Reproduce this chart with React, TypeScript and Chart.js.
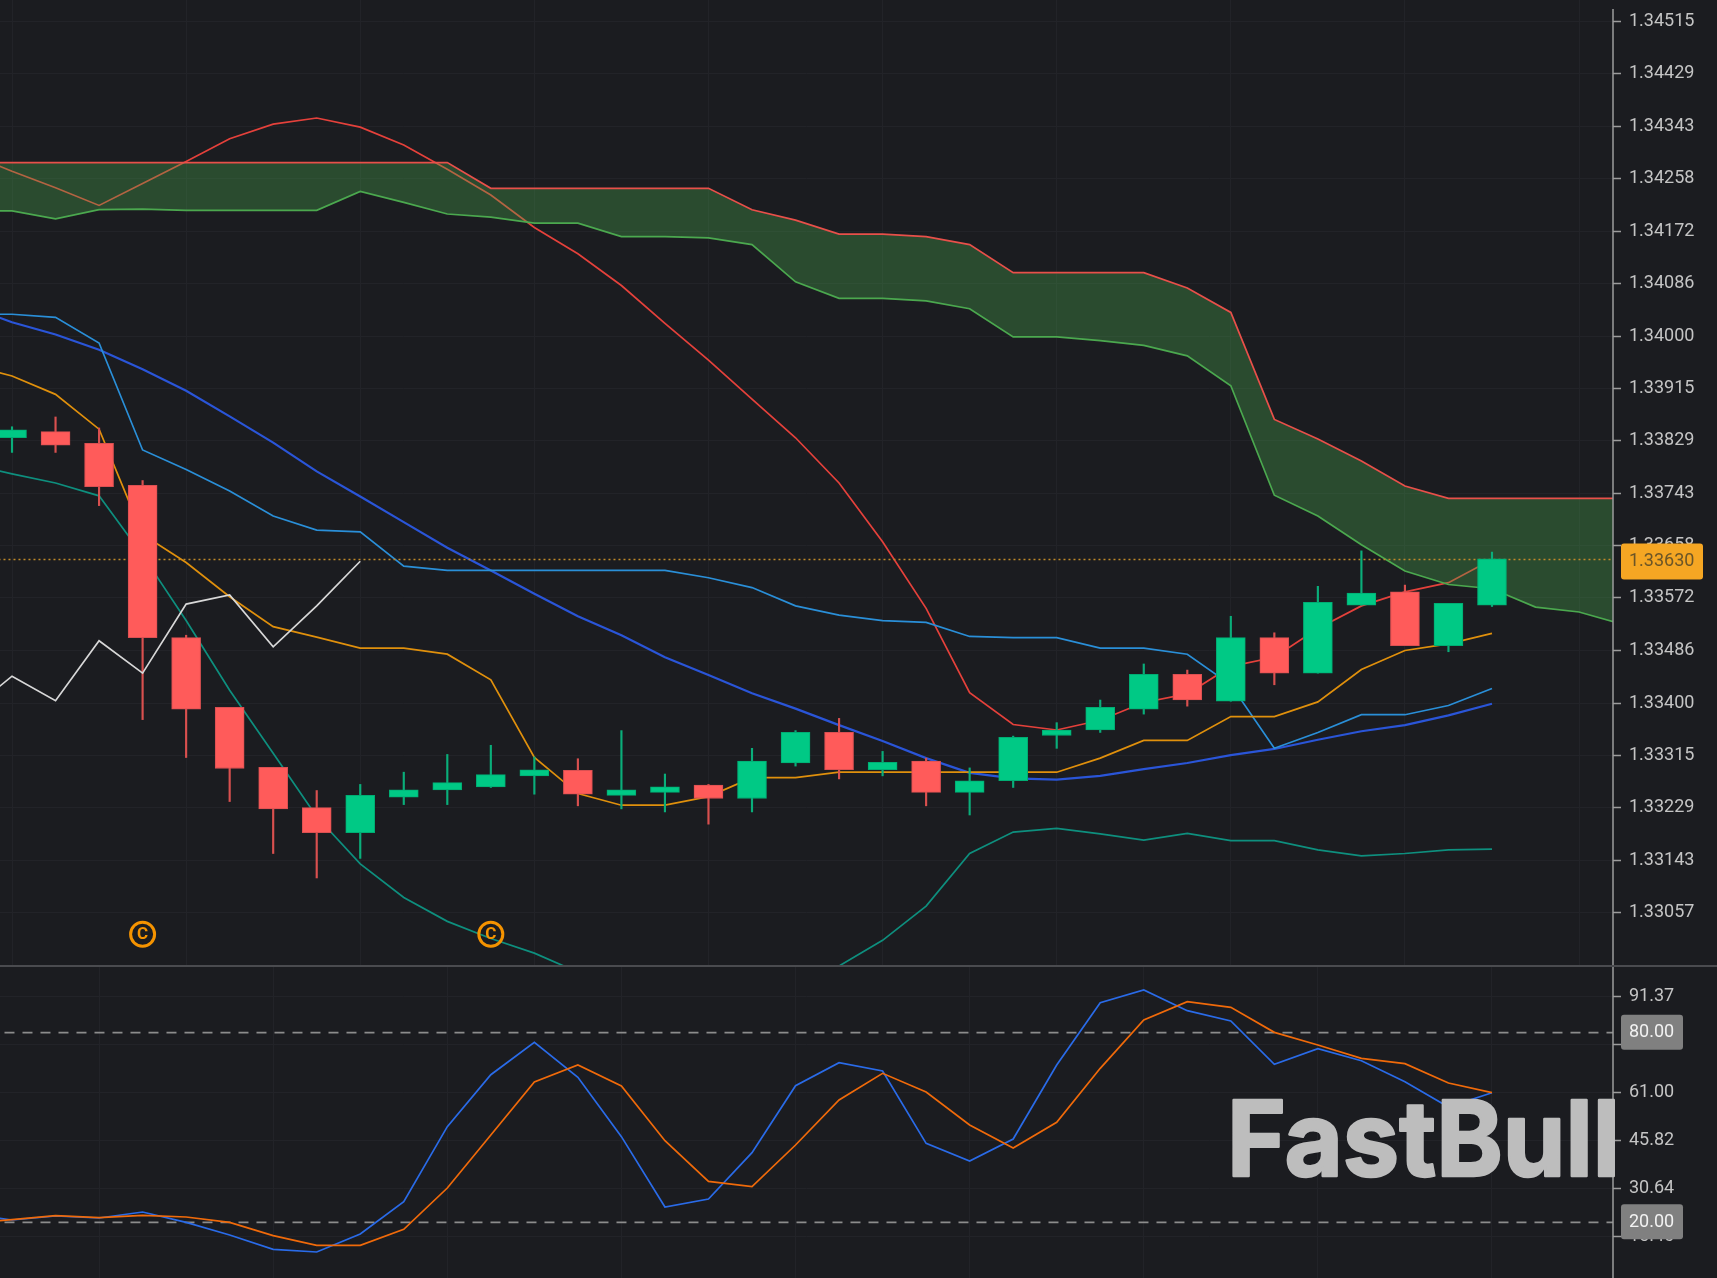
import React, { useEffect, useRef } from "react";
import { Chart, registerables } from "chart.js";

Chart.register(...registerables);

const priceTicks = [1.34515,1.34429,1.34343,1.34258,1.34172,1.34086,1.34,1.33915,1.33829,1.33743,1.33658,1.33572,1.33486,1.334,1.33315,1.33229,1.33143,1.33057];
const oscTicks = [91.37,76.19,61.0,45.82,30.64,15.46];
const gridIdx = [2,6,10,14,18,22,26,30,34];

const opens = [1.33834,1.33844,1.33825,1.33756,1.33507,1.33393,1.33295,1.33229,1.33188,1.33246,1.33258,1.33263,1.33281,1.3329,1.33249,1.33254,1.33266,1.33244,1.33302,1.33352,1.33291,1.33305,1.33254,1.33273,1.33347,1.33356,1.3339,1.33447,1.33403,1.33507,1.33449,1.3356,1.33582,1.33494,1.3356];
const closes = [1.33847,1.33822,1.33754,1.33507,1.3339,1.33293,1.33227,1.33188,1.33249,1.33258,1.3327,1.33283,1.33291,1.33251,1.33258,1.33263,1.33244,1.33305,1.33352,1.33291,1.33303,1.33254,1.33273,1.33344,1.33356,1.33393,1.33447,1.33405,1.33507,1.33449,1.33565,1.3358,1.33494,1.33563,1.33636];
const highs = [1.33852,1.33868,1.3385,1.33764,1.33511,1.33393,1.33295,1.33257,1.33267,1.33287,1.33316,1.33331,1.33312,1.33309,1.33355,1.33284,1.33267,1.33326,1.33355,1.33375,1.33321,1.3331,1.33294,1.33346,1.33368,1.33405,1.33464,1.33454,1.33542,1.33515,1.33591,1.33649,1.33593,1.33563,1.33647];
const lows = [1.3381,1.3381,1.33723,1.33373,1.33311,1.33239,1.33154,1.33114,1.33146,1.33234,1.33234,1.33262,1.33251,1.33232,1.33227,1.33222,1.33202,1.33222,1.33297,1.33276,1.33281,1.33232,1.33217,1.33262,1.33326,1.33352,1.33382,1.33395,1.33403,1.3343,1.33449,1.3356,1.33494,1.33484,1.33558];

// series below start at candle index -1
const cloudTop = [1.34284,1.34284,1.34284,1.34284,1.34284,1.34284,1.34284,1.34284,1.34284,1.34284,1.34284,1.34284,1.34242,1.34242,1.34242,1.34242,1.34242,1.34242,1.34207,1.3419,1.34167,1.34167,1.34163,1.3415,1.34104,1.34104,1.34104,1.34104,1.34079,1.34039,1.33864,1.33832,1.33796,1.33755,1.33735,1.33735,1.33735,1.33735,1.33735];
const cloudBottom = [1.34205,1.34205,1.34192,1.34207,1.34208,1.34206,1.34206,1.34206,1.34206,1.34237,1.34219,1.342,1.34195,1.34185,1.34185,1.34163,1.34163,1.34161,1.3415,1.34089,1.34062,1.34062,1.34058,1.34045,1.33999,1.33999,1.33993,1.33985,1.33968,1.33919,1.3374,1.33706,1.33659,1.33616,1.33594,1.33587,1.33557,1.33549,1.33529];
const redCurve = [1.34299,1.3427,1.34243,1.34214,1.3425,1.34286,1.34323,1.34347,1.34357,1.34342,1.34313,1.34273,1.34231,1.34178,1.34135,1.34083,1.34021,1.33961,1.33897,1.33834,1.3376,1.33664,1.33555,1.33417,1.33365,1.33356,1.33372,1.33401,1.33415,1.3346,1.33475,1.33522,1.33559,1.33582,1.33597,1.33635];
const orangeLine = [1.33954,1.33935,1.33905,1.33848,1.33676,1.3363,1.33574,1.33525,1.33508,1.3349,1.3349,1.3348,1.33438,1.33311,1.33252,1.33233,1.33233,1.33247,1.33278,1.33278,1.33287,1.33287,1.33287,1.33287,1.33287,1.33287,1.3331,1.33339,1.33339,1.33378,1.33378,1.33402,1.33455,1.33486,1.33497,1.33514];
const lightBlue = [1.34036,1.34036,1.34031,1.33989,1.33814,1.33782,1.33747,1.33706,1.33683,1.3368,1.33624,1.33617,1.33617,1.33617,1.33617,1.33617,1.33617,1.33605,1.33589,1.33559,1.33544,1.33535,1.33532,1.33509,1.33507,1.33507,1.3349,1.3349,1.3348,1.3343,1.33326,1.33352,1.33381,1.33381,1.33396,1.33424];
const royalBlue = [1.34049,1.34023,1.34003,1.33978,1.33946,1.33911,1.33869,1.33826,1.33779,1.33738,1.33696,1.33654,1.33617,1.33579,1.33542,1.33511,1.33475,1.33446,1.33416,1.33391,1.33364,1.33338,1.3331,1.33286,1.33277,1.33275,1.33281,1.33292,1.33302,1.33315,1.33325,1.3334,1.33354,1.33364,1.3338,1.33399];
const tealLine = [1.33791,1.33775,1.3376,1.33739,1.33642,1.33535,1.33421,1.33318,1.33214,1.33137,1.33082,1.33043,1.33015,1.32991,1.3296,1.3294,1.32925,1.32915,1.32915,1.3293,1.3297,1.33012,1.33068,1.33154,1.33189,1.33195,1.33186,1.33176,1.33187,1.33175,1.33175,1.3316,1.3315,1.33154,1.3316,1.33161];
const whiteLine = [1.33386,1.33444,1.33404,1.33502,1.33449,1.33562,1.33577,1.33492,1.33559,1.33632];
const stochK = [22.5,20.74,22.01,21.37,23.27,20.0,16.0,11.46,10.62,16.31,26.54,50.26,66.7,76.93,65.86,47.1,24.85,27.38,42.04,63.23,70.5,67.86,44.99,39.4,46.36,69.76,89.47,93.48,86.94,83.68,69.97,74.93,71.13,64.49,56.48,61.01];
const stochD = [19.69,20.85,22.11,21.48,22.22,21.69,20.0,15.79,12.73,12.73,17.79,30.86,47.62,64.38,69.76,63.12,45.83,32.97,31.28,44.46,58.69,67.13,61.22,50.79,43.51,51.63,68.71,83.99,89.79,88.0,80.09,76.09,71.87,70.18,64.07,61.01];

const lastPrice = 1.33635;
const lastPriceLabel = "1.33630";
const osLevels = [80, 20];
const osLabels = ["80.00", "20.00"];
const markerIdx = [3, 11];
const markerValue = [1.33022, 1.33022];
const markerText = "C";
const watermark = "FastBull";

const WIDTH = 1717;
const AXIS_W = 104;
const TOP_H = 966;
const LOW_H = 311;
const BG = "#1B1C20";
const GRID = "#222328";
const TICK = "#C4C4C4";
const AXIS = "#9C9C9C";
const UP = "#00C985";
const DOWN = "#FF5B5A";

const pts = (vals: number[], start = -1) => vals.map((y, k) => ({ x: start + k, y }));
const flat = (v: number) => { const o: { x: number; y: number }[] = []; for (let i = -1; i <= 37; i++) o.push({ x: i, y: v }); return o; };
const line = (label: string, data: any, color: string, order: number, extra: any = {}) => ({
  type: "line", label, data, borderColor: color, backgroundColor: color, borderWidth: 1.7,
  pointRadius: 0, tension: 0, fill: false, order, ...extra,
});
const noPad = (s: any) => { s.paddingTop = 0; s.paddingBottom = 0; s.paddingLeft = 0; s.paddingRight = 0; };

const xScale = () => ({
  type: "linear", min: -0.276, max: 36.78, offset: false,
  afterFit: noPad,
  afterBuildTicks: (s: any) => { s.ticks = gridIdx.map((value) => ({ value })); },
  ticks: { display: false, autoSkip: false },
  grid: { color: GRID, lineWidth: 1, drawTicks: false },
  border: { display: false },
});
const yScale = (min: number, max: number, list: number[], digits: number) => ({
  type: "linear", position: "right", min, max,
  afterFit: (s: any) => { s.width = AXIS_W; noPad(s); },
  afterBuildTicks: (s: any) => { s.ticks = list.map((value) => ({ value })); },
  ticks: {
    autoSkip: false, padding: 8, color: TICK, font: { family: "Roboto", size: 18 },
    callback: (v: any) => Number(v).toFixed(digits),
  },
  grid: { color: GRID, lineWidth: 1, tickColor: AXIS, tickLength: 8, tickWidth: 1.5 },
  border: { display: false },
});

const roundRect = (ctx: CanvasRenderingContext2D, x: number, y: number, w: number, h: number, r: number, fill: string) => {
  ctx.beginPath();
  ctx.roundRect(x, y, w, h, r);
  ctx.fillStyle = fill;
  ctx.fill();
};

const topOverlay = {
  id: "topOverlay",
  afterDraw(chart: any) {
    const { ctx, chartArea, scales } = chart;
    ctx.save();
    ctx.strokeStyle = AXIS; ctx.lineWidth = 1.5;
    ctx.beginPath(); ctx.moveTo(chartArea.right, 9); ctx.lineTo(chartArea.right, chartArea.bottom); ctx.stroke();
    ctx.font = "bold 17px Roboto"; ctx.fillStyle = "#F59300"; ctx.textAlign = "center"; ctx.textBaseline = "middle";
    markerIdx.forEach((m, k) => ctx.fillText(markerText, scales.x.getPixelForValue(m), scales.y.getPixelForValue(markerValue[k]) + 1));
    const y = scales.y.getPixelForValue(lastPrice) + 1;
    roundRect(ctx, chartArea.right + 8, y - 17, 82, 36, 3, "#F5A623");
    ctx.font = "18px Roboto"; ctx.fillStyle = "#6B5527"; ctx.textAlign = "left";
    ctx.fillText(lastPriceLabel, chartArea.right + 16, y + 1);
    ctx.restore();
  },
};

const lowOverlay = {
  id: "lowOverlay",
  afterDraw(chart: any) {
    const { ctx, chartArea, scales } = chart;
    ctx.save();
    ctx.strokeStyle = AXIS; ctx.lineWidth = 1.5;
    ctx.beginPath(); ctx.moveTo(chartArea.right, 0); ctx.lineTo(chartArea.right, chartArea.bottom); ctx.stroke();
    ctx.textBaseline = "middle"; ctx.textAlign = "left";
    osLevels.forEach((lvl, k) => {
      const y = scales.y.getPixelForValue(lvl);
      roundRect(ctx, chartArea.right + 8, y - 18, 62, 35, 3, "#808080");
      ctx.font = "18px Roboto"; ctx.fillStyle = "#F2F2F2";
      ctx.fillText(osLabels[k], chartArea.right + 16, y);
    });
    ctx.font = "bold 104px Inter"; ctx.fillStyle = "#BDBDBD"; ctx.strokeStyle = "#BDBDBD"; ctx.lineWidth = 2.5;
    ctx.lineJoin = "round"; ctx.textBaseline = "alphabetic";
    ctx.fillText(watermark, 1227, 1176 - 967, 393);
    ctx.strokeText(watermark, 1227, 1176 - 967, 393);
    ctx.restore();
  },
};

export default function App() {
  const topRef = useRef<HTMLCanvasElement | null>(null);
  const lowRef = useRef<HTMLCanvasElement | null>(null);

  useEffect(() => {
    const bodyColors = closes.map((c, i) => (c >= opens[i] ? UP : DOWN));
    const wickColors = closes.map((c, i) => (c >= opens[i] ? "#0AAE7A" : "#D9504F"));
    const edgeColors = closes.map((c, i) => (c >= opens[i] ? "#00AD73" : "#DB5052"));
    const top = new Chart(topRef.current as any, {
      type: "bar",
      data: {
        datasets: [
          line("Last", flat(lastPrice), "#C08A2A", 3, { borderDash: [2, 3], borderWidth: 1.5 }),
          line("Span A", pts(cloudTop), "#E8504A", 5, { fill: "+1", backgroundColor: "rgba(76,175,80,0.32)" }),
          line("Span B", pts(cloudBottom), "#4CA84F", 5),
          line("Red", pts(redCurve), "#E5413B", 9),
          line("Orange", pts(orangeLine), "#E0900C", 4),
          line("Light blue", pts(lightBlue), "#2A8FD8", 4),
          line("Royal blue", pts(royalBlue), "#2A55D8", 4, { borderWidth: 2.2 }),
          line("Teal", pts(tealLine), "#0E8F7E", 4),
          line("Lag", pts(whiteLine), "#D8D8D8", 0),
          {
            type: "bar", label: "Wick", grouped: false, barThickness: 1.5, order: 2,
            data: highs.map((h, i) => ({ x: i, y: [lows[i], h] })), backgroundColor: wickColors,
          },
          {
            type: "bar", label: "Body", grouped: false, barThickness: 29, order: 1,
            data: opens.map((o, i) => ({ x: i, y: [o, closes[i]] })),
            backgroundColor: bodyColors, borderColor: edgeColors, borderWidth: 1, borderSkipped: false,
          },
          {
            type: "line", label: "Marker", showLine: false, order: 0,
            data: markerIdx.map((x, k) => ({ x, y: markerValue[k] })),
            pointRadius: 12, pointBorderWidth: 3, pointBorderColor: "#F59300", pointBackgroundColor: "rgba(0,0,0,0)",
          },
        ] as any,
      },
      options: {
        responsive: false, animation: false, layout: { padding: 0, autoPadding: false },
        plugins: { legend: { display: false }, tooltip: { enabled: false } },
        scales: { x: xScale(), y: yScale(1.3297, 1.34550, priceTicks, 5) } as any,
      },
      plugins: [topOverlay],
    } as any);

    const low = new Chart(lowRef.current as any, {
      type: "line",
      data: {
        datasets: [
          line("80", flat(osLevels[0]), "#8C8C8C", 3, { borderDash: [10, 8] }),
          line("20", flat(osLevels[1]), "#8C8C8C", 3, { borderDash: [10, 8] }),
          line("K", pts(stochK), "#2A6BE8", 2),
          line("D", pts(stochD), "#F06A0A", 1),
        ] as any,
      },
      options: {
        responsive: false, animation: false, layout: { padding: 0, autoPadding: false },
        plugins: { legend: { display: false }, tooltip: { enabled: false } },
        scales: { x: xScale(), y: yScale(2.4, 100.76, oscTicks, 2) } as any,
      },
      plugins: [lowOverlay],
    } as any);

    return () => { top.destroy(); low.destroy(); };
  }, []);

  return (
    <div style={{ position: "fixed", left: 0, top: 0, width: WIDTH, height: 1278, background: BG, overflow: "hidden" }}>
      <style>{`html,body{margin:0;background:${BG};overflow:hidden}`}</style>
      <canvas ref={topRef} width={WIDTH} height={TOP_H} style={{ position: "absolute", left: 0, top: 0, width: WIDTH, height: TOP_H }} />
      <canvas ref={lowRef} width={WIDTH} height={LOW_H} style={{ position: "absolute", left: 0, top: 967, width: WIDTH, height: LOW_H }} />
      <div style={{ position: "absolute", left: 0, top: 965, width: WIDTH, height: 2, background: "#4A4B4F" }} />
    </div>
  );
}
